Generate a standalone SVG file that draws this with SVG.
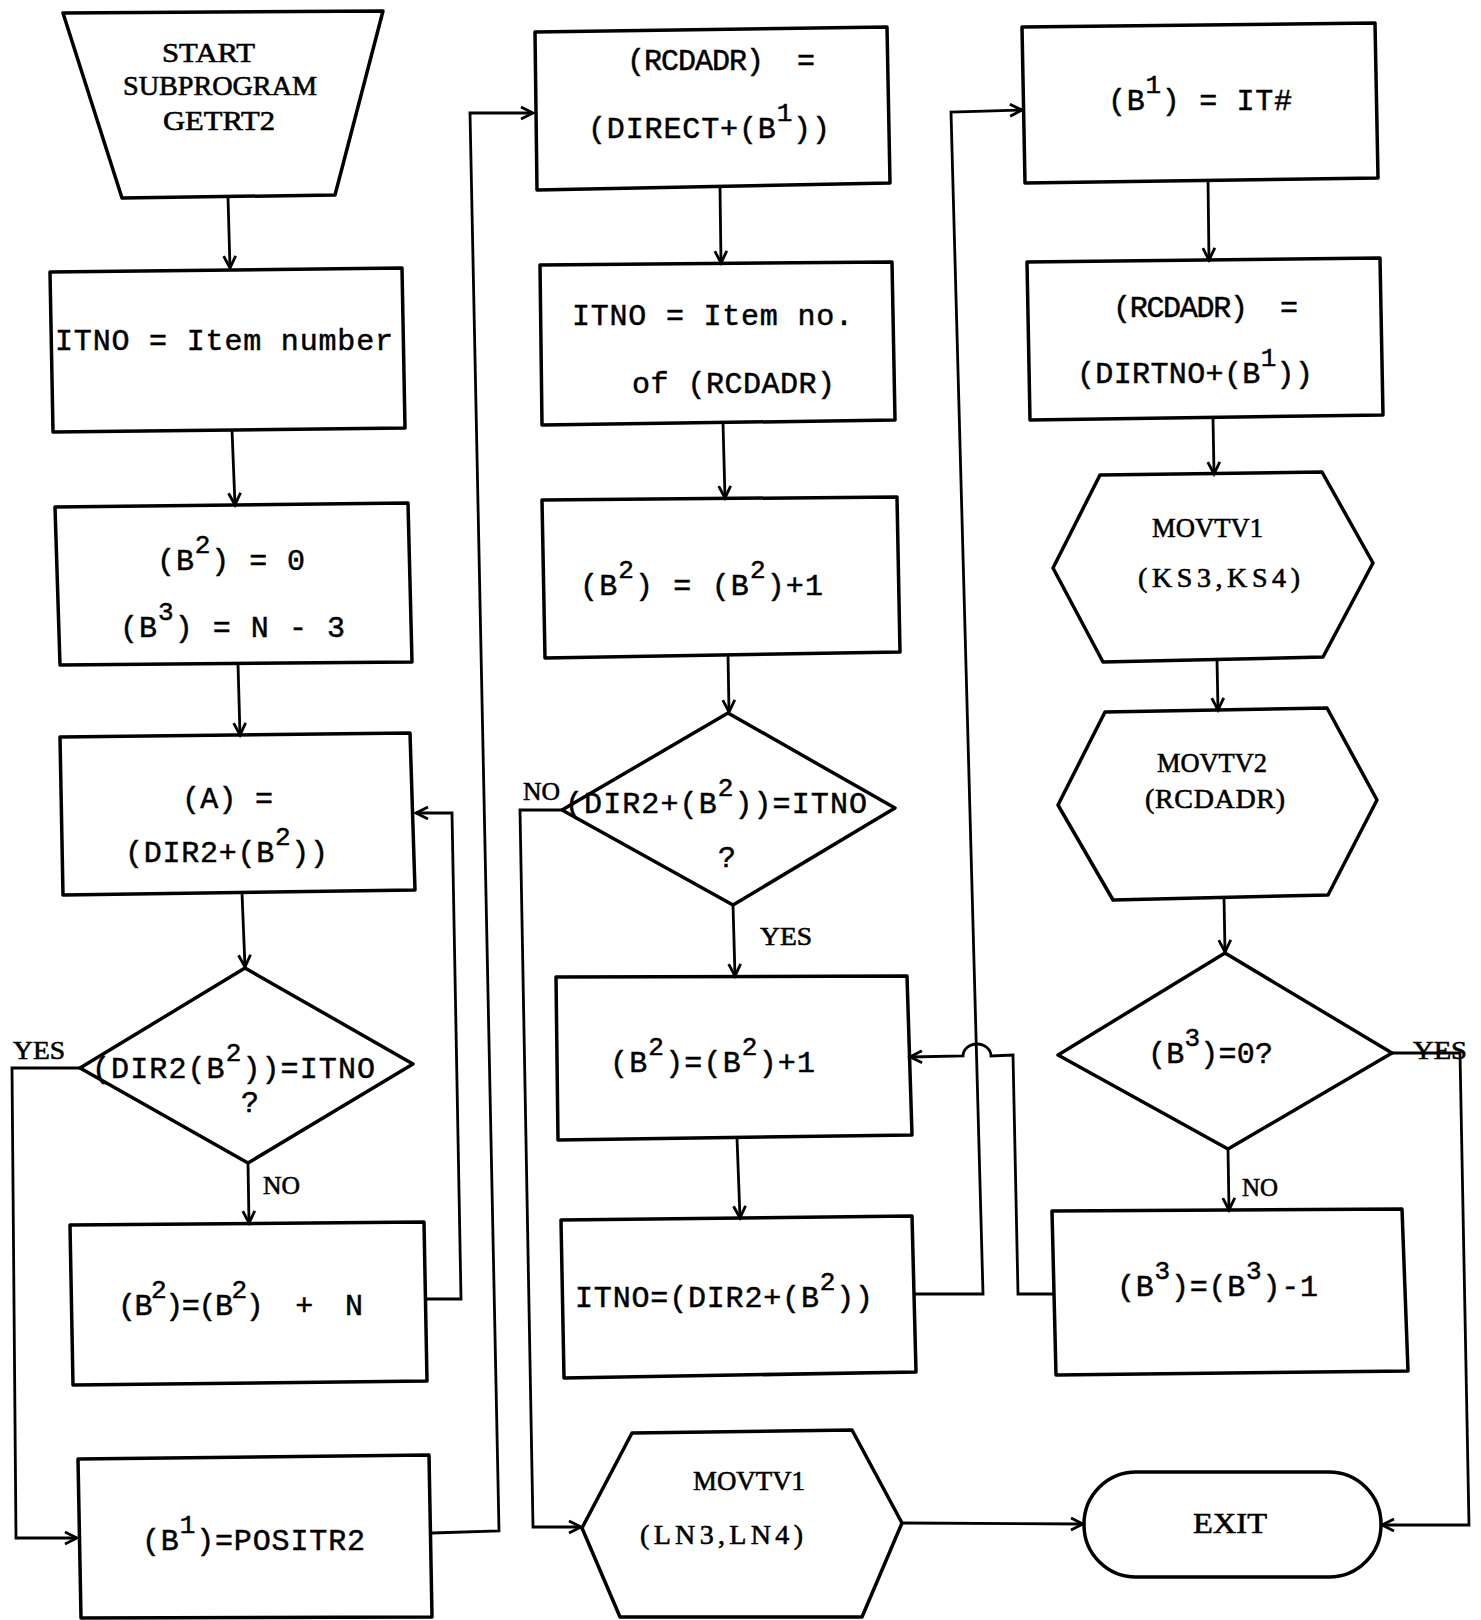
<svg xmlns="http://www.w3.org/2000/svg" width="1481" height="1620" viewBox="0 0 1481 1620">
<defs>
<style>
.shape{fill:none;stroke:#000;stroke-width:3.5;stroke-linejoin:round}
.conn{fill:none;stroke:#000;stroke-width:2.8}
.mono{font-family:"Liberation Mono","DejaVu Sans Mono",monospace;font-size:30px;fill:#000;stroke:#000;stroke-width:0.5}
.serif{font-family:"Liberation Serif","DejaVu Serif",serif;font-size:28px;fill:#000;stroke:#000;stroke-width:0.6}
.lbl{font-family:"Liberation Serif","DejaVu Serif",serif;font-size:26px;fill:#000;stroke:#000;stroke-width:0.6}
.sup{font-size:26px}
</style>
<marker id="arr" markerUnits="userSpaceOnUse" markerWidth="18" markerHeight="18" refX="15" refY="9" orient="auto">
<path d="M3,3 L15,9 L3,15" fill="none" stroke="#000" stroke-width="2.8"/>
</marker>
</defs>
<rect width="1481" height="1620" fill="#fff"/>

<g id="connectors">
<path class="conn" d="M228,197 L230,268" marker-end="url(#arr)"/>
<path class="conn" d="M232,430 L235,505" marker-end="url(#arr)"/>
<path class="conn" d="M238,664 L240,735" marker-end="url(#arr)"/>
<path class="conn" d="M242,893 L245,967" marker-end="url(#arr)"/>
<path class="conn" d="M248,1163 L249,1223" marker-end="url(#arr)"/>
<path class="conn" d="M80,1068 L12,1068 L16,1538 L77,1538" marker-end="url(#arr)"/>
<path class="conn" d="M426,1299 L461,1299 L452,813 L416,813" marker-end="url(#arr)"/>
<path class="conn" d="M432,1533 L499,1531 L470,113 L533,113" marker-end="url(#arr)"/>
<path class="conn" d="M720,188 L721,263" marker-end="url(#arr)"/>
<path class="conn" d="M723,423 L725,498" marker-end="url(#arr)"/>
<path class="conn" d="M728,655 L729,712" marker-end="url(#arr)"/>
<path class="conn" d="M562,810 L520,810 L533,1527 L581,1527" marker-end="url(#arr)"/>
<path class="conn" d="M733,905 L735,976" marker-end="url(#arr)"/>
<path class="conn" d="M737,1138 L740,1218" marker-end="url(#arr)"/>
<path class="conn" d="M914,1294 L983,1294 L951,112 L1022,110" marker-end="url(#arr)"/>
<path class="conn" d="M1054,1294 L1018,1294 L1013,1055 L991,1056 A14,12 0 0 0 963,1056 L910,1057" marker-end="url(#arr)"/>
<path class="conn" d="M902,1523 L1083,1524" marker-end="url(#arr)"/>
<path class="conn" d="M1208,180 L1209,260" marker-end="url(#arr)"/>
<path class="conn" d="M1213,418 L1214,474" marker-end="url(#arr)"/>
<path class="conn" d="M1217,660 L1218,710" marker-end="url(#arr)"/>
<path class="conn" d="M1224,898 L1225,952" marker-end="url(#arr)"/>
<path class="conn" d="M1228,1149 L1229,1210" marker-end="url(#arr)"/>
<path class="conn" d="M1392,1053 L1460,1053 L1469,1525 L1382,1525" marker-end="url(#arr)"/>
<text class="lbl" x="13" y="1059" textLength="52" lengthAdjust="spacingAndGlyphs">YES</text>
<text class="lbl" x="263" y="1194" textLength="37" lengthAdjust="spacingAndGlyphs">NO</text>
<text class="lbl" x="523" y="800" textLength="37" lengthAdjust="spacingAndGlyphs">NO</text>
<text class="lbl" x="760" y="945" textLength="52" lengthAdjust="spacingAndGlyphs">YES</text>
<text class="lbl" x="1413" y="1059" textLength="54" lengthAdjust="spacingAndGlyphs">YES</text>
<text class="lbl" x="1242" y="1196" textLength="36" lengthAdjust="spacingAndGlyphs">NO</text>
</g>

<g id="start">
<polygon class="shape" points="63,13 383,11 335,195 122,198"/>
<text class="serif" x="162" y="62" textLength="93" lengthAdjust="spacingAndGlyphs">START</text>
<text class="serif" x="123" y="95" textLength="194" lengthAdjust="spacingAndGlyphs">SUBPROGRAM</text>
<text class="serif" x="163" y="130" textLength="112" lengthAdjust="spacingAndGlyphs">GETRT2</text>
</g>

<g id="box1">
<polygon class="shape" points="50,272 402,268 405,428 53,432"/>
<text class="mono" x="55" y="350" textLength="338" xml:space="preserve">ITNO = Item number</text>
</g>

<g id="box2">
<polygon class="shape" points="55,507 408,503 412,662 60,665"/>
<text class="mono" x="157" y="570" textLength="148" xml:space="preserve">(B<tspan class="sup" dy="-17">2</tspan><tspan dy="17">) = 0</tspan></text>
<text class="mono" x="120" y="637" textLength="225" xml:space="preserve">(B<tspan class="sup" dy="-17">3</tspan><tspan dy="17">) = N - 3</tspan></text>
</g>

<g id="box3">
<polygon class="shape" points="60,737 410,733 415,890 63,895"/>
<text class="mono" x="182" y="808" textLength="91" xml:space="preserve">(A) =</text>
<text class="mono" x="125" y="862" textLength="203">(DIR2+(B<tspan class="sup" dy="-17">2</tspan><tspan dy="17">))</tspan></text>
</g>

<g id="decision1">
<polygon class="shape" points="245,968 413,1064 248,1163 80,1068"/>
<text class="mono" x="92" y="1078" textLength="283">(DIR2(B<tspan class="sup" dy="-17">2</tspan><tspan dy="17">))=ITNO</tspan></text>
<text class="mono" x="250" y="1112" text-anchor="middle">?</text>
</g>

<g id="box4">
<polygon class="shape" points="70,1225 424,1222 427,1381 73,1385"/>
<text class="mono" x="118" y="1315" textLength="245" xml:space="preserve">(B<tspan class="sup" dy="-17">2</tspan><tspan dy="17">)=(B</tspan><tspan class="sup" dy="-17">2</tspan><tspan dy="17">)  +  N</tspan></text>
</g>

<g id="box5">
<polygon class="shape" points="78,1459 429,1455 432,1617 81,1618"/>
<text class="mono" x="142" y="1550" textLength="223">(B<tspan class="sup" dy="-17">1</tspan><tspan dy="17">)=POSITR2</tspan></text>
</g>

<g id="boxA">
<polygon class="shape" points="535,32 887,27 890,183 537,190"/>
<text class="mono" x="627" y="70" textLength="188" xml:space="preserve">(RCDADR)  =</text>
<text class="mono" x="588" y="138" textLength="242">(DIRECT+(B<tspan class="sup" dy="-17">1</tspan><tspan dy="17">))</tspan></text>
</g>

<g id="boxB">
<polygon class="shape" points="540,265 892,262 895,420 542,425"/>
<text class="mono" x="572" y="325" textLength="281" xml:space="preserve">ITNO = Item no.</text>
<text class="mono" x="632" y="393" textLength="203" xml:space="preserve">of (RCDADR)</text>
</g>

<g id="boxC">
<polygon class="shape" points="542,500 897,497 900,652 545,658"/>
<text class="mono" x="580" y="595" textLength="243" xml:space="preserve">(B<tspan class="sup" dy="-17">2</tspan><tspan dy="17">) = (B</tspan><tspan class="sup" dy="-17">2</tspan><tspan dy="17">)+1</tspan></text>
</g>

<g id="decision2">
<polygon class="shape" points="728,713 895,808 733,905 562,810"/>
<text class="mono" x="565" y="813" textLength="302">(DIR2+(B<tspan class="sup" dy="-17">2</tspan><tspan dy="17">))=ITNO</tspan></text>
<text class="mono" x="727" y="867" text-anchor="middle">?</text>
</g>

<g id="boxD">
<polygon class="shape" points="556,977 907,976 912,1135 558,1140"/>
<text class="mono" x="610" y="1072" textLength="205">(B<tspan class="sup" dy="-17">2</tspan><tspan dy="17">)=(B</tspan><tspan class="sup" dy="-17">2</tspan><tspan dy="17">)+1</tspan></text>
</g>

<g id="boxE">
<polygon class="shape" points="561,1220 912,1216 916,1372 564,1378"/>
<text class="mono" x="575" y="1307" textLength="298">ITNO=(DIR2+(B<tspan class="sup" dy="-17">2</tspan><tspan dy="17">))</tspan></text>
</g>

<g id="movtv1-ln">
<polygon class="shape" points="632,1433 852,1430 902,1523 862,1617 620,1617 582,1528"/>
<text class="serif" x="693" y="1490" textLength="112" lengthAdjust="spacingAndGlyphs">MOVTV1</text>
<text class="serif" x="640" y="1544" textLength="163">(LN3,LN4)</text>
</g>

<g id="boxF">
<polygon class="shape" points="1022,27 1375,23 1378,178 1025,183"/>
<text class="mono" x="1108" y="110" textLength="184" xml:space="preserve">(B<tspan class="sup" dy="-17">1</tspan><tspan dy="17">) = IT#</tspan></text>
</g>

<g id="boxG">
<polygon class="shape" points="1027,262 1380,258 1383,415 1030,420"/>
<text class="mono" x="1113" y="317" textLength="185" xml:space="preserve">(RCDADR)  =</text>
<text class="mono" x="1077" y="383" textLength="236">(DIRTNO+(B<tspan class="sup" dy="-17">1</tspan><tspan dy="17">))</tspan></text>
</g>

<g id="movtv1-ks">
<polygon class="shape" points="1100,475 1322,472 1373,563 1323,657 1103,662 1053,568"/>
<text class="serif" x="1152" y="537" textLength="111" lengthAdjust="spacingAndGlyphs">MOVTV1</text>
<text class="serif" x="1138" y="587" textLength="162">(KS3,KS4)</text>
</g>

<g id="movtv2">
<polygon class="shape" points="1105,712 1327,708 1377,800 1328,895 1113,900 1058,805"/>
<text class="serif" x="1157" y="772" textLength="110" lengthAdjust="spacingAndGlyphs">MOVTV2</text>
<text class="serif" x="1145" y="808" textLength="140">(RCDADR)</text>
</g>

<g id="decision3">
<polygon class="shape" points="1225,953 1392,1053 1228,1149 1058,1055"/>
<text class="mono" x="1148" y="1063" textLength="125">(B<tspan class="sup" dy="-17">3</tspan><tspan dy="17">)=0?</tspan></text>
</g>

<g id="boxH">
<polygon class="shape" points="1052,1211 1402,1209 1408,1371 1056,1375"/>
<text class="mono" x="1117" y="1296" textLength="201">(B<tspan class="sup" dy="-17">3</tspan><tspan dy="17">)=(B</tspan><tspan class="sup" dy="-17">3</tspan><tspan dy="17">)-1</tspan></text>
</g>

<g id="exit">
<rect class="shape" x="1084" y="1472" width="297" height="105" rx="52" ry="52"/>
<text class="serif" x="1193" y="1533" textLength="74" lengthAdjust="spacingAndGlyphs" style="font-size:29px">EXIT</text>
</g>
</svg>
